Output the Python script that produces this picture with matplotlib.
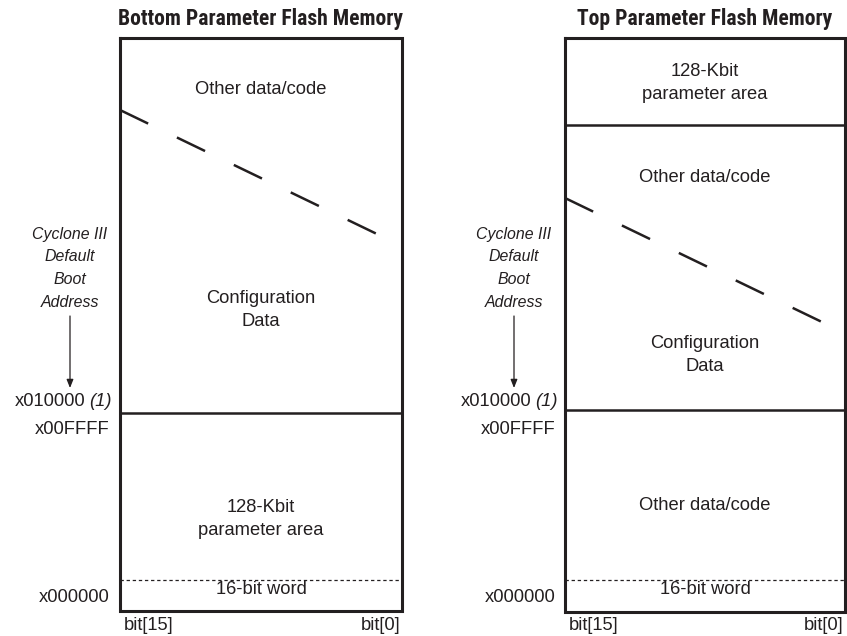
import matplotlib
matplotlib.use("Agg")
import matplotlib.pyplot as plt
from matplotlib import font_manager

plt.rcParams['lines.scale_dashes'] = False

names = {f.name for f in font_manager.fontManager.ttflist}
BODY = 'Liberation Sans' if 'Liberation Sans' in names else 'DejaVu Sans'
TITLE = BODY
TFS = 13.3
for cand in ['Liberation Sans Narrow', 'DejaVu Sans Condensed', 'Roboto Condensed', 'Open Sans Condensed']:
    if cand in names:
        TITLE = cand
        TFS = 15.6
        break

# ---- diagram content ----
titles = ["Bottom Parameter Flash Memory", "Top Parameter Flash Memory"]
regions_bottom = ["Other data/code", "Configuration\nData", "128-Kbit\nparameter area"]
regions_top = ["128-Kbit\nparameter area", "Other data/code", "Configuration\nData", "Other data/code"]
word_label = "16-bit word"
boot_label = ["Cyclone III", "Default", "Boot", "Address"]
addr_high = "x010000"
addr_note = "(1)"
addr_low = "x00FFFF"
addr_zero = "x000000"
bit_labels = ["bit[15]", "bit[0]"]

W, H = 847, 636
fig = plt.figure(figsize=(W / 100, H / 100), dpi=100)
ax = fig.add_axes([0, 0, 1, 1])
ax.set_xlim(0, W)
ax.set_ylim(H, 0)
ax.axis('off')

FS = 13.2
INK = '#231f20'

def panel(x0, x1, top, bot, solid_y, dash_start, dash_end, title, region_specs, off, xlab0):
    cx = (x0 + x1) / 2
    ax.text(cx, 19, title, ha='center', va='center', fontsize=TFS,
            fontweight='bold', family=TITLE, color=INK)
    ax.plot([x0, x1, x1, x0, x0], [top, top, bot, bot, top], color=INK,
            lw=2.2, solid_joinstyle='miter', solid_capstyle='projecting')
    for y in solid_y:
        ax.plot([x0, x1], [y, y], color=INK, lw=1.8)
    ax.plot([x0, x1], [580, 580], color=INK, lw=0.9, dashes=(2.4, 2.0))
    ax.plot([dash_start[0], dash_end[0]], [dash_start[1], dash_end[1]],
            color=INK, lw=1.8, dashes=(22.5, 23.0))
    for txt, y in region_specs:
        ax.text(cx, y, txt, ha='center', va='center', fontsize=FS,
                family=BODY, color=INK, linespacing=1.45)
    ax.text(cx, 590, word_label, ha='center', va='center', fontsize=FS,
            family=BODY, color=INK)
    ax.text(x0 + 4, 625, bit_labels[0], ha='left', va='center', fontsize=FS,
            family=BODY, color=INK)
    ax.text(x1 - 2, 625, bit_labels[1], ha='right', va='center', fontsize=FS,
            family=BODY, color=INK)
    lx = off
    for i, t in enumerate(boot_label):
        ax.text(lx, 234 + i * 22.7, t, ha='center', va='center', fontsize=FS - 1.8,
                family=BODY, style='italic', color=INK)
    ax.annotate('', xy=(lx, 388), xytext=(lx, 316),
                arrowprops=dict(arrowstyle='-|>,head_length=0.5,head_width=0.2',
                                color=INK, lw=0.9, shrinkA=0, shrinkB=0))
    ax.text(xlab0 - 27, 402, addr_high, ha='right', va='center', fontsize=FS,
            family=BODY, color=INK)
    ax.text(xlab0, 402, addr_note, ha='right', va='center', fontsize=FS,
            family=BODY, style='italic', color=INK)
    ax.text(xlab0 - 2, 429, addr_low, ha='right', va='center', fontsize=FS,
            family=BODY, color=INK)
    ax.text(xlab0 - 2, 597, addr_zero, ha='right', va='center', fontsize=FS,
            family=BODY, color=INK)

panel(120, 402, 38, 611, [413], (120, 110), (379, 235), titles[0],
      [(regions_bottom[0], 90), (regions_bottom[1], 310), (regions_bottom[2], 519)], 70, 112)
panel(565, 845, 38, 612, [125, 410], (565, 198), (824, 323), titles[1],
      [(regions_top[0], 83), (regions_top[1], 178), (regions_top[2], 355), (regions_top[3], 506)], 514, 558)

fig.savefig('out.png', dpi=100, facecolor='white')
